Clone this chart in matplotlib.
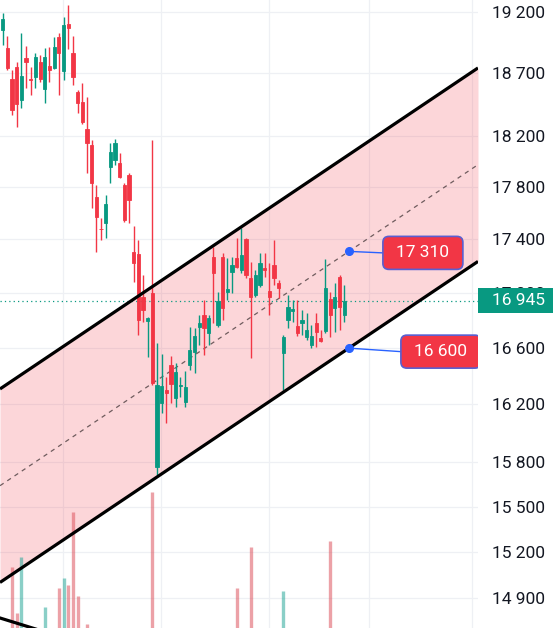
import numpy as np
import matplotlib
matplotlib.use('Agg')
import matplotlib.pyplot as plt
from matplotlib.patches import Rectangle, FancyBboxPatch
from matplotlib.lines import Line2D
from matplotlib.transforms import IdentityTransform, blended_transform_factory
from matplotlib.ticker import NullLocator

plt.rcParams['font.family'] = ['Roboto', 'DejaVu Sans']

# daily candles
opens = [19050, 18905, 18650, 18750, 18480, 18820, 18650, 18665, 18790, 18570,
         18755, 18740, 18995, 18715, 19100, 18860, 18545, 18465, 18250, 18125,
         17720, 17480, 17525, 17955, 18010, 17985, 17815, 17890, 17305, 17290,
         16970, 16795, 17000, 15765, 16210, 16300, 16480, 16245, 16330, 16215,
         16480, 16570, 16750, 16840, 16710, 17265, 16765, 17265, 17005, 17155,
         17260, 17170, 17405, 17110, 16985, 17060, 17185, 17015, 17210, 17075,
         16565, 16805, 16870, 16760, 16780, 16680, 16620, 16780, 16670, 16725,
         16955, 16890, 17120, 16840]
highs = [19190, 19000, 18725, 18790, 19025, 18920, 18750, 18860, 18845, 18905,
         18910, 18995, 19025, 19160, 19260, 19000, 18560, 18620, 18505, 18165,
         17815, 17560, 17735, 18140, 18175, 18065, 17830, 17905, 17500, 17395,
         17135, 16825, 18165, 16635, 16555, 16395, 16545, 16495, 16395, 16435,
         16750, 16745, 16840, 16950, 16840, 17340, 17010, 17295, 17260, 17265,
         17410, 17485, 17410, 17230, 17170, 17295, 17295, 17225, 17395, 17095,
         16695, 16985, 16950, 16950, 16875, 16855, 16765, 16855, 16730, 17250,
         17010, 17075, 17135, 17060]
lows = [18930, 18720, 18360, 18265, 18420, 18580, 18520, 18580, 18625, 18460,
        18625, 18735, 18520, 18645, 18895, 18600, 18380, 18290, 17905, 17640,
        17305, 17395, 17410, 17830, 17970, 17870, 17530, 17525, 17080, 16695,
        16790, 16535, 16335, 15710, 16140, 16070, 16210, 16180, 16250, 16180,
        16445, 16420, 16620, 16550, 16620, 16780, 16750, 16805, 16950, 17000,
        17185, 17150, 17110, 16530, 16970, 17045, 17120, 16840, 17060, 16965,
        16300, 16745, 16790, 16685, 16695, 16660, 16600, 16605, 16645, 16710,
        16680, 16715, 16730, 16790]
closes = [19140, 18740, 18400, 18450, 18675, 18790, 18645, 18830, 18650, 18830,
          18725, 18910, 18860, 19090, 19065, 18665, 18460, 18305, 18140, 17830,
          17570, 17475, 17670, 18070, 18140, 17875, 17545, 17700, 17220, 16805,
          16875, 16815, 16350, 16335, 16330, 16280, 16345, 16430, 16335, 16320,
          16585, 16685, 16780, 16745, 16815, 17150, 16940, 16890, 17030, 17210,
          17195, 17280, 17135, 16970, 17135, 17220, 17170, 16970, 17110, 17035,
          16680, 16900, 16885, 16710, 16805, 16730, 16685, 16715, 16650, 17035,
          16840, 16970, 16900, 16945]
# volume (only the visible bars; the panel top = VOL_TOP)
volume = [0, 0, 61, 15, 71, 0, 0, 0, 0, 21,
          0, 0, 40, 50, 43, 116, 32, 0, 4, 0,
          0, 0, 0, 0, 0, 0, 0, 0, 0, 0,
          0, 0, 136, 0, 0, 0, 0, 0, 0, 0,
          0, 0, 0, 0, 0, 0, 0, 0, 0, 0,
          40, 0, 0, 81, 0, 0, 0, 0, 0, 0,
          37, 0, 0, 0, 0, 0, 0, 0, 0, 0,
          87, 0, 0, 0]
VOL_TOP = 628

price_ticks = [19200, 18700, 18200, 17800, 17400, 17000, 16600, 16200, 15800, 15500, 15200, 14900]
month_lines = [12.9, 33.8, 56.9, 78.3, 100.3]

# trend channel drawing
ch_bar = 74
ch_low = 16600
ch_mid = 17310
ch_slope = 0.00136   # log growth per bar
old_line_x = [-0.6, 7.0]
old_line_p = [14770, 14700]

last = closes[-1]

RED = '#F23645'
GREEN = '#089981'
W, H = 555, 628

fig = plt.figure(figsize=(W / 100, H / 100), dpi=100)
ax = fig.add_axes([0, 0, 478 / W, 1])
ax.set_yscale('log')

o = np.array(opens, float)
c = np.array(closes, float)
idx = np.arange(len(o))
up = c >= o
col = np.where(up, GREEN, RED)

xlim = (-0.58, 101.6)

# grid
for m in month_lines:
    ax.axvline(m, color='#EEF0F4', lw=0.9, zorder=0.2)
for t in price_ticks:
    ax.axhline(t, color='#EEF0F4', lw=0.9, zorder=0.2)

# channel
xs = np.array(xlim)
lower = ch_low * np.exp(ch_slope * (xs - ch_bar))
ratio = ch_mid / ch_low
ax.fill_between(xs, lower, lower * ratio ** 2, color=RED, alpha=0.2, lw=0, zorder=0.5)
ax.plot(xs, lower * ratio ** 2, color='black', lw=2.3, zorder=4, solid_capstyle='butt')
ax.plot(xs, lower, color='black', lw=2.3, zorder=4, solid_capstyle='butt')
ax.plot(xs, lower * ratio, color='#6f5c5e', lw=0.9, ls=(0, (3.5, 3.5)), zorder=2)
ax.plot(old_line_x, old_line_p, color='black', lw=2.3, zorder=4)

# volume
vol = np.array(volume, float)
vm = vol > 0
trans = blended_transform_factory(ax.transData, ax.transAxes)
vcol = np.where(up, '#2AA89A', '#DD5560')
ax.vlines(idx[vm], 0, vol[vm] / VOL_TOP, colors=vcol[vm], lw=2.4, alpha=0.55,
          transform=trans, zorder=1)

# candles
ax.vlines(idx, lows, highs, colors=col, lw=1.0, zorder=3)
ax.bar(idx, np.abs(c - o), bottom=np.minimum(o, c), width=0.7, color=col,
       edgecolor=col, linewidth=0.6, zorder=3)

# last price line
ax.axhline(last, color=GREEN, lw=0.9, ls=(0, (1, 2.5)), zorder=2)

ax.set_xlim(*xlim)
ax.set_ylim(14706, 19300)
ax.yaxis.tick_right()
ax.set_yticks(price_ticks)
ax.set_yticklabels([f'{t:,}'.replace(',', ' ') for t in price_ticks])
ax.yaxis.set_minor_locator(NullLocator())
ax.tick_params(axis='y', length=0, pad=10, labelsize=12.5, labelcolor='#131722')
ax.set_xticks([])
for s in ax.spines.values():
    s.set_visible(False)

# channel price labels
ident = IdentityTransform()
for price, dx, dy in [(ch_mid, 34, -1.5), (ch_low, 52, -3.5)]:
    ax.plot(ch_bar, price, 'o', color='#2962FF', ms=5.5, zorder=8)
    d = ax.transData.transform((ch_bar, price))
    left, cy = d[0] + dx, d[1] + dy
    ax.add_artist(Line2D([d[0], left], [d[1], cy], transform=ident,
                         color='#2962FF', lw=1, zorder=5))
    box = FancyBboxPatch((left, cy - 16.5), 80, 33, boxstyle='round,pad=0,rounding_size=6',
                         fc=RED, ec='#5A5FD0', lw=1.2, transform=ident, zorder=6)
    ax.add_artist(box)
    ax.text(left + 40, cy, f'{price:,}'.replace(',', ' '), transform=ident,
            ha='center', va='center', color='white', fontsize=12.5, zorder=7, clip_on=True)

# last price tag on the scale
cy = ax.transData.transform((0, last))[1]
fig.add_artist(Rectangle((478, cy - 12.5), 75, 25, transform=ident, fc=GREEN, ec='none', zorder=5))
fig.text(492, cy, f'{last:,}'.replace(',', ' '), transform=ident, color='white',
         ha='left', va='center', fontsize=12.5, zorder=6)

fig.savefig('out.png', dpi=100, facecolor='white')
